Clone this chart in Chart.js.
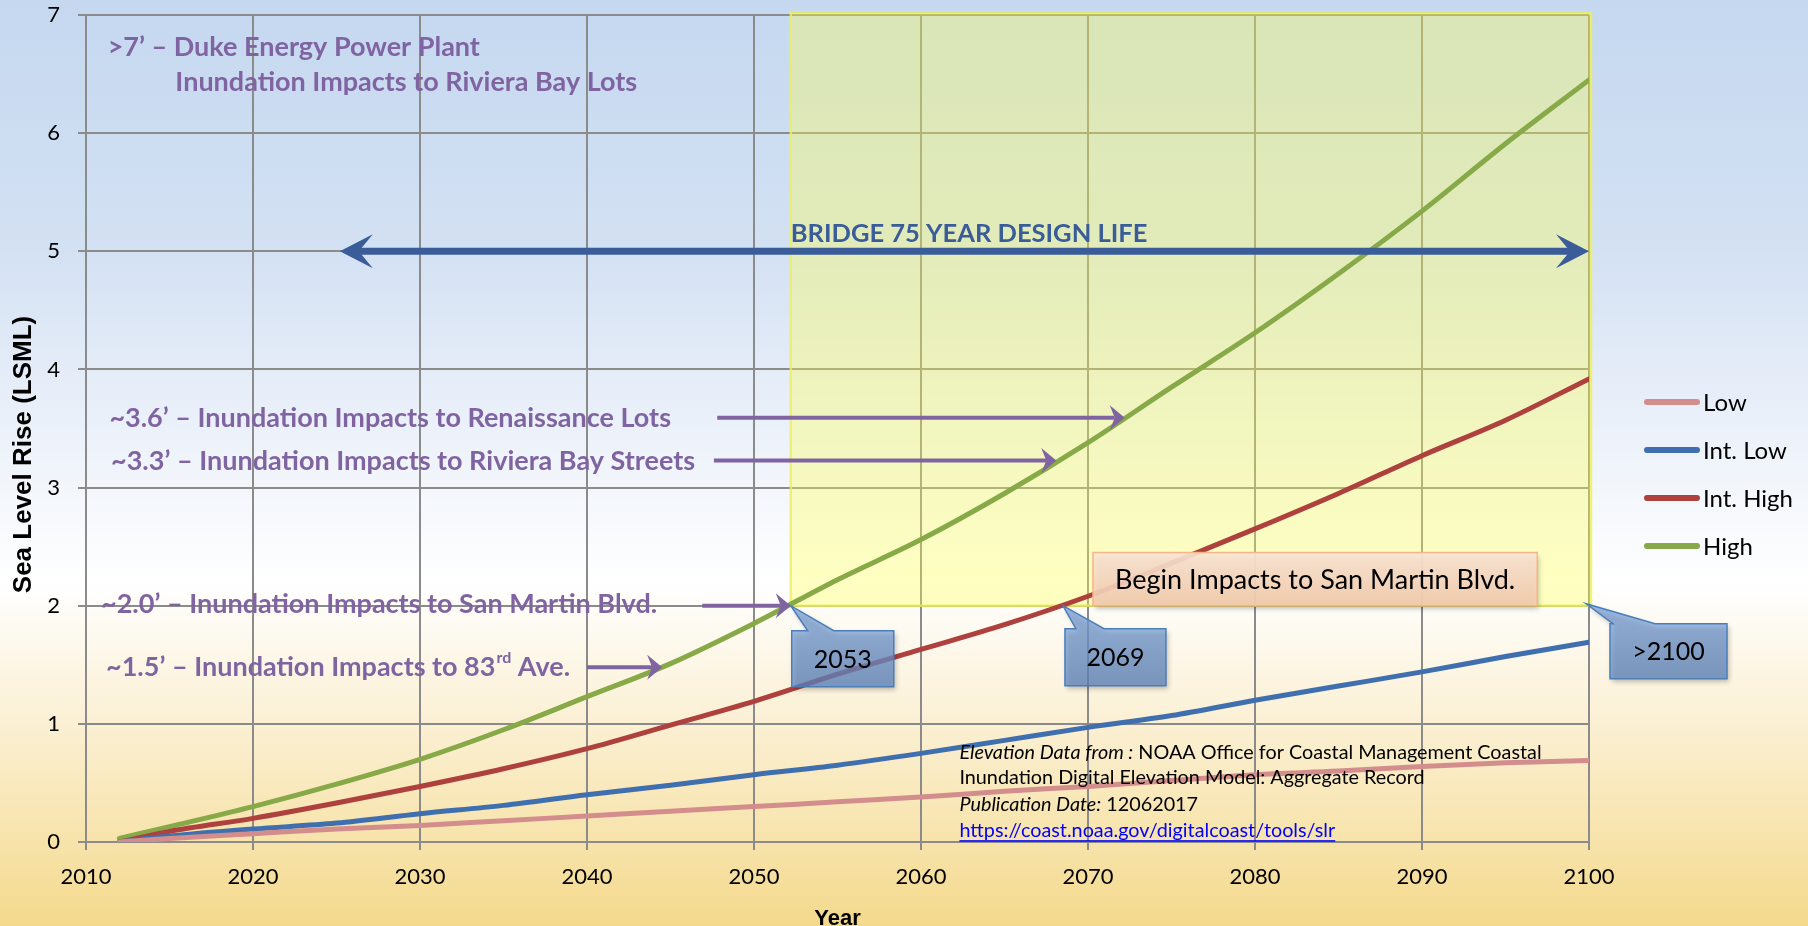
<!DOCTYPE html>
<html>
<head>
<meta charset="utf-8">
<script src="https://cdn.jsdelivr.net/npm/chart.js@4.4.1/dist/chart.umd.min.js"></script>
<style>
  html, body { margin: 0; padding: 0; background: #fff; }
  #wrap { width: 1808px; height: 926px; }
</style>
</head>
<body>
<div id="wrap"><canvas id="chart" width="1808" height="926"></canvas></div>
<script>
// values (feet of rise)
const years = [2012, 2015, 2020, 2025, 2030, 2035, 2040, 2045, 2050, 2055, 2060, 2065, 2070, 2075, 2080, 2085, 2090, 2095, 2100];
const low = [0.00, 0.03, 0.07, 0.11, 0.14, 0.18, 0.22, 0.26, 0.30, 0.34, 0.38, 0.43, 0.47, 0.52, 0.57, 0.60, 0.64, 0.67, 0.69];
const intLow = [0.00, 0.05, 0.11, 0.16, 0.24, 0.31, 0.40, 0.48, 0.57, 0.65, 0.75, 0.86, 0.97, 1.07, 1.20, 1.32, 1.44, 1.57, 1.69];
const intHigh = [0.00, 0.09, 0.20, 0.33, 0.47, 0.62, 0.79, 0.99, 1.19, 1.42, 1.63, 1.84, 2.08, 2.36, 2.65, 2.95, 3.27, 3.57, 3.92];
const high = [0.03, 0.13, 0.30, 0.49, 0.70, 0.95, 1.23, 1.51, 1.85, 2.22, 2.56, 2.95, 3.38, 3.85, 4.31, 4.81, 5.34, 5.91, 6.45];

const seriesNames = ['Low', 'Int. Low', 'Int. High', 'High'];
const seriesValues = [low, intLow, intHigh, high];
const seriesColors = ['#d48d8d', '#3f6fae', '#ae403d', '#87a947'];

// annotation texts
const yTitle = 'Sea Level Rise (LSML)';
const topNote = ['>7’ – Duke Energy Power Plant', 'Inundation Impacts to Riviera Bay Lots'];
const impactNotes = [
    '~3.6’ – Inundation Impacts to Renaissance Lots',
    '~3.3’ – Inundation Impacts to Riviera Bay Streets',
    '~2.0’ – Inundation Impacts to San Martin Blvd.',
    '~1.5’ – Inundation Impacts to 83'
];
const bridgeLabel = 'BRIDGE 75 YEAR DESIGN LIFE';
const bridgeStart = 2025.2;
const bridgeEnd = 2100;
const designLevel = 2;        // ft, San Martin Blvd.
const designStart = 2052.2;   // High crosses 2 ft
const calloutYears = ['2053', '2069', '>2100'];
const beginLabel = 'Begin Impacts to San Martin Blvd.';
const sourceLines = [
    ['Elevation Data from :', ' NOAA Office for Coastal Management Coastal'],
    ['', 'Inundation Digital Elevation Model: Aggregate Record'],
    ['Publication Date:', ' 12062017'],
    ['', 'https://coast.noaa.gov/digitalcoast/tools/slr']
];

const FONT = 'Lato, "Open Sans", sans-serif';
const ARIAL = '"Liberation Sans", Arial, sans-serif';
const PURPLE = '#8064a2';

function arrow(ctx, x1, x2, y, width, len, half, notch, color, both) {
    ctx.save();
    ctx.fillStyle = color;
    ctx.strokeStyle = color;
    ctx.lineWidth = width;
    ctx.beginPath();
    ctx.moveTo(both ? x1 + len - notch : x1, y);
    ctx.lineTo(x2 - len + notch, y);
    ctx.stroke();
    const head = (tip, dir) => {
        ctx.beginPath();
        ctx.moveTo(tip, y);
        ctx.lineTo(tip - dir * len, y - half);
        ctx.lineTo(tip - dir * (len - notch), y);
        ctx.lineTo(tip - dir * len, y + half);
        ctx.closePath();
        ctx.fill();
    };
    head(x2, 1);
    if (both) head(x1, -1);
    ctx.restore();
}

function callout(ctx, tipX, tipY, box, base, text) {
    const x1 = tipX + box[0], x2 = tipX + box[1], y1 = tipY + box[2], y2 = tipY + box[3];
    ctx.save();
    ctx.beginPath();
    ctx.moveTo(x1, y1);
    ctx.lineTo(tipX + base[0], y1);
    ctx.lineTo(tipX, tipY);
    ctx.lineTo(tipX + base[1], y1);
    ctx.lineTo(x2, y1);
    ctx.lineTo(x2, y2);
    ctx.lineTo(x1, y2);
    ctx.closePath();
    const g = ctx.createLinearGradient(0, y1, 0, y2);
    g.addColorStop(0, 'rgba(120,160,215,0.72)');
    g.addColorStop(1, 'rgba(95,135,195,0.72)');
    ctx.shadowColor = 'rgba(0,0,0,0.35)';
    ctx.shadowBlur = 5;
    ctx.shadowOffsetX = 2;
    ctx.shadowOffsetY = 3;
    ctx.fillStyle = g;
    ctx.fill();
    ctx.shadowColor = 'transparent';
    ctx.strokeStyle = '#4a7ebb';
    ctx.lineWidth = 1.5;
    ctx.stroke();
    ctx.fillStyle = '#000';
    ctx.font = '25px ' + FONT;
    ctx.textAlign = 'center';
    ctx.textBaseline = 'middle';
    ctx.fillText(text, (x1 + x2) / 2, (y1 + y2) / 2 + 1);
    ctx.restore();
}

const backgroundPlugin = {
    id: 'slideBackground',
    beforeDraw(chart) {
        const ctx = chart.ctx;
        const g = ctx.createLinearGradient(0, 0, 0, chart.height);
        g.addColorStop(0, '#c5d8f0');
        g.addColorStop(0.27, '#d3e1f3');
        g.addColorStop(0.40, '#e4ecf8');
        g.addColorStop(0.63, '#ffffff');
        g.addColorStop(0.78, '#fbf0d4');
        g.addColorStop(0.91, '#f7e3aa');
        g.addColorStop(1, '#f4d98c');
        ctx.save();
        ctx.fillStyle = g;
        ctx.fillRect(0, 0, chart.width, chart.height);
        ctx.restore();
    }
};

const notesPlugin = {
    id: 'slideNotes',
    beforeDatasetsDraw(chart) {
        const ctx = chart.ctx;
        const x = chart.scales.x, y = chart.scales.y;
        const left = x.getPixelForValue(designStart), right = x.getPixelForValue(2100) + 2;
        const top = y.getPixelForValue(7) - 2, bottom = y.getPixelForValue(designLevel);
        ctx.save();
        ctx.fillStyle = 'rgba(255,255,80,0.35)';
        ctx.fillRect(left, top, right - left, bottom - top);
        ctx.strokeStyle = 'rgba(238,240,90,0.8)';
        ctx.lineWidth = 2.5;
        ctx.strokeRect(left, top, right - left, bottom - top);
        ctx.restore();

        // y axis title
        ctx.save();
        ctx.translate(24, y.getPixelForValue(3.28));
        ctx.rotate(-Math.PI / 2);
        ctx.fillStyle = '#000';
        ctx.font = 'bold 26px ' + ARIAL;
        ctx.textAlign = 'center';
        ctx.textBaseline = 'middle';
        ctx.fillText(yTitle, 0, 0);
        ctx.restore();
    },
    afterDatasetsDraw(chart) {
        const ctx = chart.ctx;
        const x = chart.scales.x, y = chart.scales.y;
        const px = v => x.getPixelForValue(v), py = v => y.getPixelForValue(v);

        // purple notes
        ctx.save();
        ctx.fillStyle = PURPLE;
        ctx.textBaseline = 'middle';
        ctx.textAlign = 'left';
        ctx.font = 'bold 27px ' + FONT;
        ctx.fillText(topNote[0], px(2011.3), py(6.73));
        ctx.fillText(topNote[1], px(2015.35), py(6.43));
        const noteX = [2011.4, 2011.5, 2010.9, 2011.2];
        const noteY = [3.59, 3.22, 2.01, 1.48];
        impactNotes.forEach((t, i) => {
            ctx.font = 'bold 27px ' + FONT;
            const sx = px(noteX[i]), sy = py(noteY[i]);
            ctx.fillText(t, sx, sy);
            if (i === 3) {
                let w = ctx.measureText(t).width;
                ctx.font = 'bold 16px ' + FONT;
                ctx.fillText('rd', sx + w + 1, sy - 9);
                w += ctx.measureText('rd').width + 1;
                ctx.font = 'bold 27px ' + FONT;
                ctx.fillText(' Ave.', sx + w, sy);
            }
        });
        ctx.restore();

        // purple arrows to the High curve
        arrow(ctx, px(2047.8), px(2072.2), py(3.59), 4, 15, 12.5, 5, PURPLE, false);
        arrow(ctx, px(2047.6), px(2068.1), py(3.23), 4, 15, 12.5, 5, PURPLE, false);
        arrow(ctx, px(2046.9), px(designStart), py(designLevel), 4, 15, 12.5, 5, PURPLE, false);
        arrow(ctx, px(2040.0), px(2044.5), py(1.48), 4, 15, 12.5, 5, PURPLE, false);

        // bridge design life
        arrow(ctx, px(bridgeStart), px(bridgeEnd), py(5), 7, 33, 17, 14, '#3a5c99', true);
        ctx.save();
        ctx.fillStyle = '#3a5c99';
        ctx.font = 'bold 25.5px ' + FONT;
        ctx.textBaseline = 'middle';
        ctx.fillText(bridgeLabel, px(designStart), py(5.15));
        ctx.restore();

        // begin impacts box
        const bx1 = px(2070.3), bx2 = px(2096.9), by1 = py(2.45), by2 = py(designLevel);
        ctx.save();
        const g = ctx.createLinearGradient(0, by1, 0, by2);
        g.addColorStop(0, 'rgba(252,230,214,0.9)');
        g.addColorStop(1, 'rgba(246,204,176,0.9)');
        ctx.shadowColor = 'rgba(0,0,0,0.3)';
        ctx.shadowBlur = 5;
        ctx.shadowOffsetX = 2;
        ctx.shadowOffsetY = 3;
        ctx.fillStyle = g;
        ctx.fillRect(bx1, by1, bx2 - bx1, by2 - by1);
        ctx.shadowColor = 'transparent';
        ctx.strokeStyle = '#f6b48a';
        ctx.lineWidth = 1.5;
        ctx.strokeRect(bx1, by1, bx2 - bx1, by2 - by1);
        ctx.fillStyle = '#000';
        ctx.font = '27px ' + FONT;
        ctx.textAlign = 'center';
        ctx.textBaseline = 'middle';
        ctx.fillText(beginLabel, (bx1 + bx2) / 2, (by1 + by2) / 2 + 1);
        ctx.restore();

        // year callouts
        callout(ctx, px(designStart), py(designLevel), [1, 103, 25, 81], [17, 43], calloutYears[0]);
        callout(ctx, px(2068.5), py(designLevel), [2, 103, 23, 80], [13, 41], calloutYears[1]);
        callout(ctx, px(2100) - 3, py(designLevel) - 2, [24, 141, 20, 75], [27, 69], calloutYears[2]);

        // source note
        ctx.save();
        ctx.textBaseline = 'middle';
        ctx.textAlign = 'left';
        const sxp = px(2062.3);
        const lineY = [0.76, 0.545, 0.32, 0.10];
        sourceLines.forEach((parts, i) => {
            const ly = py(lineY[i]);
            let cx = sxp;
            if (parts[0]) {
                ctx.font = 'italic 19.8px ' + FONT;
                ctx.fillStyle = '#000';
                ctx.fillText(parts[0], cx, ly);
                cx += ctx.measureText(parts[0]).width;
            }
            ctx.font = '19.8px ' + FONT;
            ctx.fillStyle = i === 3 ? '#0000ff' : '#000';
            ctx.fillText(parts[1], cx, ly);
            if (i === 3) {
                const w = ctx.measureText(parts[1]).width;
                ctx.fillRect(cx, ly + 10, w, 1.5);
            }
        });
        ctx.restore();

        // legend
        ctx.save();
        ctx.lineCap = 'round';
        ctx.lineWidth = 6;
        ctx.textBaseline = 'middle';
        ctx.font = '24px ' + FONT;
        chart.data.datasets.forEach((ds, i) => {
            const ly = 402 + i * 48;
            ctx.strokeStyle = ds.borderColor;
            ctx.beginPath();
            ctx.moveTo(1647, ly);
            ctx.lineTo(1697, ly);
            ctx.stroke();
            ctx.fillStyle = '#000';
            ctx.fillText(ds.label, 1703, ly + 1);
        });
        ctx.restore();
    }
};

const gridColor = '#8b8b8b';

new Chart(document.getElementById('chart'), {
    type: 'line',
    data: {
        datasets: seriesNames.map((name, i) => ({
            label: name,
            data: years.map((yr, j) => ({ x: yr, y: seriesValues[i][j] })),
            borderColor: seriesColors[i],
            backgroundColor: seriesColors[i],
            borderWidth: 5,
            borderCapStyle: 'round',
            borderJoinStyle: 'round',
            pointRadius: 0,
            cubicInterpolationMode: 'monotone',
            fill: false
        }))
    },
    options: {
        responsive: false,
        animation: false,
        devicePixelRatio: 1,
        layout: { padding: { top: 15, right: 219, bottom: 0, left: 0 } },
        plugins: {
            legend: { display: false },
            tooltip: { enabled: false }
        },
        scales: {
            x: {
                type: 'linear',
                min: 2010,
                max: 2100,
                ticks: {
                    stepSize: 10,
                    color: '#000',
                    padding: 14,
                    font: { family: FONT, size: 22 },
                    callback: v => String(v)
                },
                grid: { color: gridColor, lineWidth: 2, tickLength: 8 },
                border: { color: gridColor, width: 2 },
                title: {
                    display: true,
                    text: 'Year',
                    color: '#000',
                    padding: 0,
                    font: { family: ARIAL, size: 22, weight: 'bold', lineHeight: 0.6 }
                },
                afterFit: s => { s.height = 84; }
            },
            y: {
                min: 0,
                max: 7,
                ticks: {
                    stepSize: 1,
                    color: '#000',
                    padding: 18,
                    font: { family: FONT, size: 22 }
                },
                grid: { color: gridColor, lineWidth: 2, tickLength: 8 },
                border: { color: gridColor, width: 2 },
                afterFit: s => {
                    s.width = 86;
                    s.paddingTop = 0;
                    s.paddingBottom = 0;
                }
            }
        }
    },
    plugins: [backgroundPlugin, notesPlugin]
});
</script>
</body>
</html>
